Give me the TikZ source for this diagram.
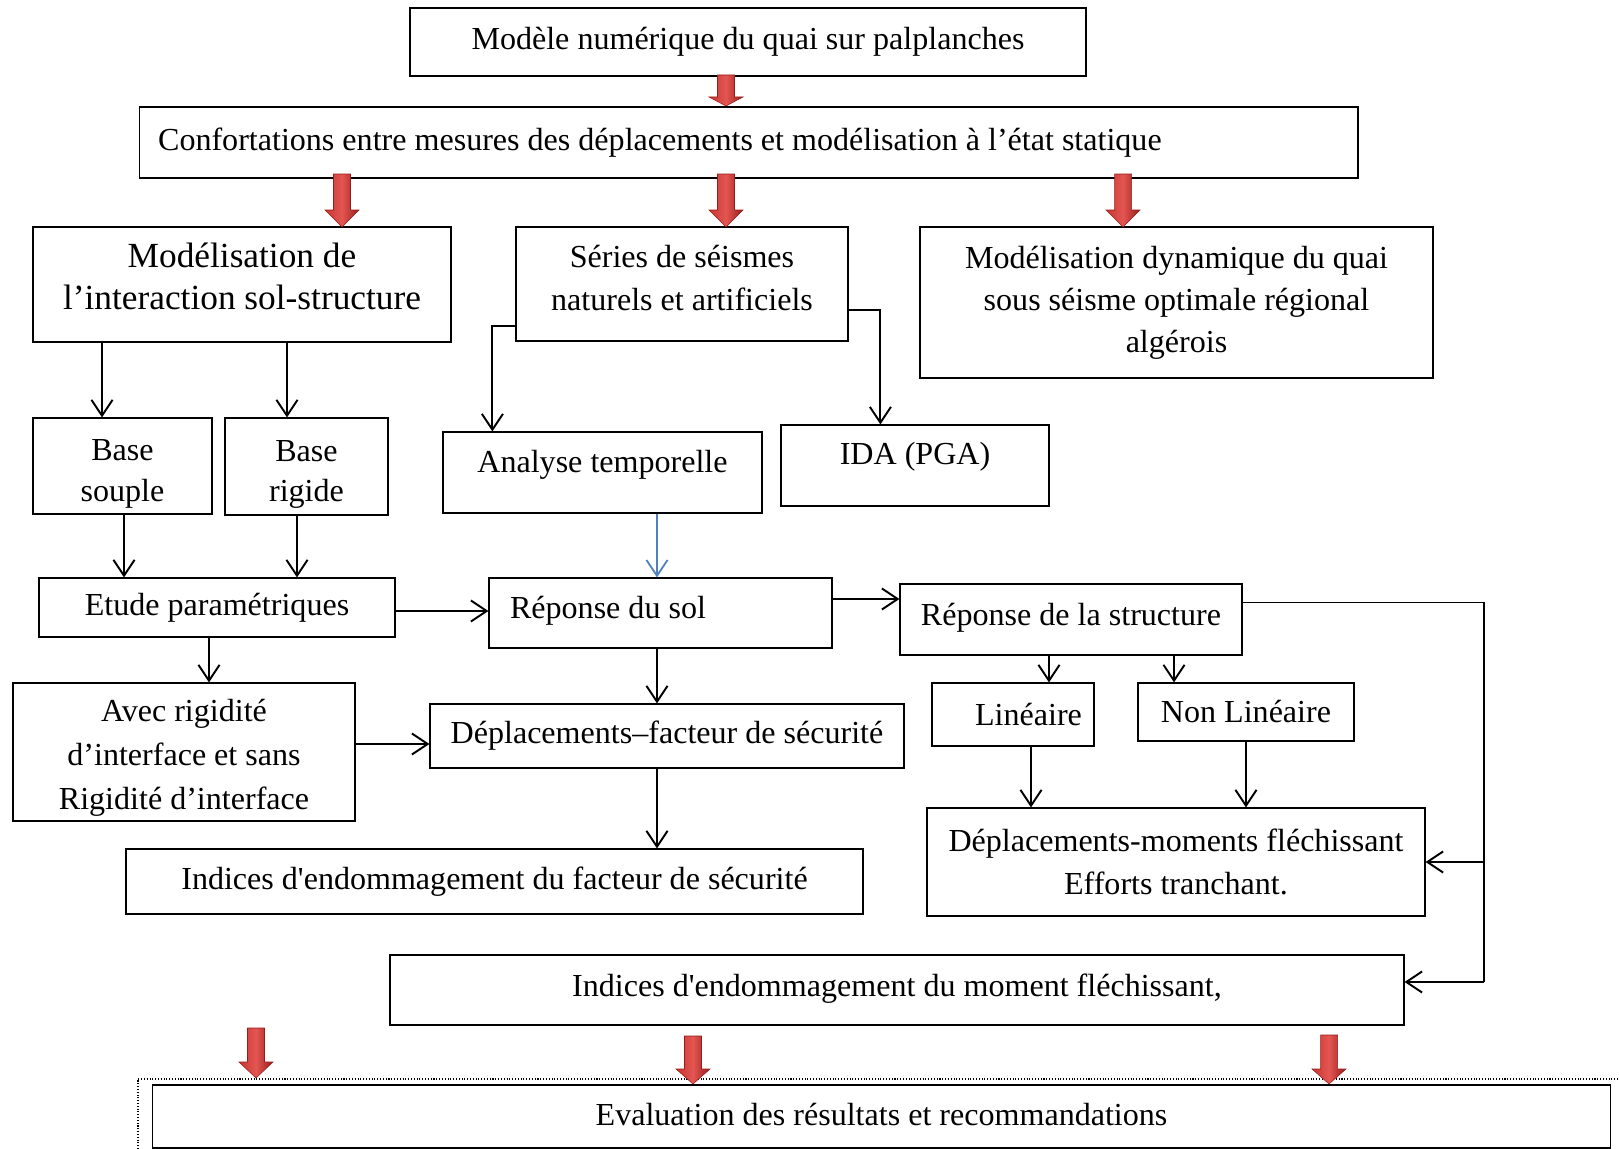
\documentclass[tikz,border=0pt]{standalone}
\usepackage{fontspec}
\setmainfont{Liberation Serif}
\usetikzlibrary{arrows.meta,calc}
\definecolor{arrowlight}{RGB}{228,86,82}
\definecolor{arrowmid}{RGB}{198,54,50}
\definecolor{arrowdark}{RGB}{150,28,26}
\definecolor{linkblue}{RGB}{79,129,189}
\newcommand\fs{\fontsize{18.25}{24}\selectfont}
\newcommand\fsbig{\fontsize{20.1}{23.5}\selectfont}
% extra depth (pushes text up) / extra height (pushes text down)
\newcommand\lift[1]{\rule[-#1]{0pt}{0pt}}
\newcommand\sink[1]{\rule{0pt}{#1}}
\def\redarrow(#1,#2,#3,#4){\shadedraw[draw=arrowdark, line width=0.3pt, left color=arrowmid, right color=arrowdark, middle color=arrowlight] (#1-8.5,#2) -- (#1+8.5,#2) -- (#1+8.5,#3-#4) -- (#1+17,#3-#4) -- (#1,#3) -- (#1-17,#3-#4) -- (#1-8.5,#3-#4) -- cycle;}

\begin{document}
\begin{tikzpicture}[x=0.02cm, y=-0.02cm,
	box/.style={draw, line width=0.7pt, inner sep=0pt, align=center, font=\fs},
	arr/.style={-{Straight Barb[length=9pt,width=12pt]}, line width=1.1pt},
	bluearr/.style={arr, draw=linkblue, line width=1pt}]
		\useasboundingbox (0,0) rectangle (1619,1149);
		
		%%%%% TOP %%%%%
		\node[box, minimum width=13.52cm, minimum height=1.36cm] (modele) at (748,42) {Modèle numérique du quai sur palplanches};
		\node[box, align=flush left, inner xsep=0.38cm, text width=23.62cm, minimum height=1.42cm] (conf) at (748.5,142.5) {Confortations entre mesures des déplacements et modélisation à l’état statique};
		
		\node[box, font=\fsbig, minimum width=8.36cm, minimum height=2.3cm] (miss) at (242,284.5) {Modélisation de\\l’interaction sol-structure\lift{9.4pt}};
		\node[box, minimum width=6.64cm, minimum height=2.28cm] (series) at (682,284) {Séries de séismes\\naturels et artificiels\lift{7pt}};
		\node[box, minimum width=10.26cm, minimum height=3.02cm] (dyn) at (1176.5,302.5) {Modélisation dynamique du quai\\sous séisme optimale régional\\algérois};
		
		%%%%% MIDDLE %%%%%
		\node[box, minimum width=3.58cm, minimum height=1.92cm] (souple) at (122.5,466) {\sink{21pt}Base\\[-1pt]souple};
		\node[box, minimum width=3.26cm, minimum height=1.94cm] (rigide) at (306.5,466.5) {\sink{21pt}Base\\[-1pt]rigide};
		\node[box, minimum width=6.38cm, minimum height=1.62cm] (analyse) at (602.5,472.5) {Analyse temporelle\lift{12.2pt}};
		\node[box, minimum width=5.36cm, minimum height=1.62cm] (ida) at (915,465.5) {IDA (PGA)\lift{13.4pt}};
		
		\node[box, minimum width=7.12cm, minimum height=1.18cm] (etude) at (217,607.5) {Etude paramétriques};
		\node[box, align=flush left, inner xsep=0.42cm, text width=6.02cm, minimum height=1.4cm] (sol) at (660.5,613) {Réponse du sol\lift{6pt}};
		\node[box, minimum width=6.84cm, minimum height=1.42cm] (structure) at (1071,619.5) {Réponse de la structure\lift{6pt}};
		
		\node[box, minimum width=6.84cm, minimum height=2.76cm] (avec) at (184,752) {\sink{19pt}Avec rigidité\\[1pt]d’interface et sans\\[1pt]Rigidité d’interface};
		\node[box, minimum width=9.48cm, minimum height=1.28cm] (dfs) at (667,736) {Déplacements–facteur de sécurité};
		\node[box, minimum width=3.24cm, minimum height=1.26cm] (lin) at (1013,714.5) {\hspace*{0.62cm}Linéaire};
		\node[box, minimum width=4.32cm, minimum height=1.16cm] (nonlin) at (1246,712) {Non Linéaire};
		
		\node[box, minimum width=14.74cm, minimum height=1.3cm] (ifs) at (494.5,881.5) {Indices d\textquotesingle endommagement du facteur de sécurité};
		\node[box, minimum width=9.96cm, minimum height=2.16cm] (dm) at (1176,862) {Déplacements-moments fléchissant\\Efforts tranchant.};
		
		%%%%% BOTTOM %%%%%
		\node[box, minimum width=20.28cm, minimum height=1.4cm] (im) at (897,990) {Indices d\textquotesingle endommagement du moment fléchissant,\lift{6pt}};
		\draw[densely dotted, line width=0.6pt] (138,1149) -- (138,1079) -- (1619,1079);
		\node[box, minimum width=29.18cm, minimum height=1.26cm] (eval) at (881.5,1116.5) {Evaluation des résultats et recommandations\lift{3pt}};
		
		%%%%% CONNECTORS %%%%%
		\draw[arr] (miss.south -| 102,0) -- (souple.north -| 102,0);
		\draw[arr] (miss.south -| 287,0) -- (rigide.north -| 287,0);
		\draw[arr] ($(series.south west)+(0,-16)$) -| ($(analyse.north west)+(50,0)$);
		\draw[arr] ($(series.east)+(0,26)$) -| ($(ida.north west)+(100,0)$);
		\draw[arr] (souple.south -| 124,0) -- (etude.north -| 124,0);
		\draw[arr] (rigide.south -| 297,0) -- (etude.north -| 297,0);
		\draw[bluearr] (analyse.south -| 657,0) -- (sol.north -| 657,0);
		\draw[arr] (etude.east |- 0,611) -- (sol.west |- 0,611);
		\draw[arr] (sol.east |- 0,599) -- (structure.west |- 0,599);
		\draw[arr] (etude.south -| 209,0) -- (avec.north -| 209,0);
		\draw[arr] (avec.east |- 0,744) -- (dfs.west |- 0,744);
		\draw[arr] (sol.south -| 657,0) -- (dfs.north -| 657,0);
		\draw[arr] (dfs.south -| 657,0) -- (ifs.north -| 657,0);
		\draw[arr] (structure.south -| 1049,0) -- (lin.north -| 1049,0);
		\draw[arr] (structure.south -| 1174,0) -- (nonlin.north -| 1174,0);
		\draw[arr] (lin.south -| 1031,0) -- (dm.north -| 1031,0);
		\draw[arr] (nonlin.south -| 1246,0) -- (dm.north -| 1246,0);
		\draw[line width=1.1pt] ($(structure.east)+(0,-17)$) -| (1484,982) coordinate (sidebot);
		\draw[arr] (sidebot) -- (im.east |- sidebot);
		\draw[arr] (sidebot |- dm.east) -- (dm.east);
		
		%%%%% RED ARROWS %%%%%
		\redarrow(726,75,106,9)
		\redarrow(342,174,227,17)
		\redarrow(726,174,227,17)
		\redarrow(1123,174,227,17)
		\redarrow(256,1028,1078,16)
		\redarrow(693,1036,1084,15)
		\redarrow(1329,1035,1084,15)
	\end{tikzpicture}
\end{document}
